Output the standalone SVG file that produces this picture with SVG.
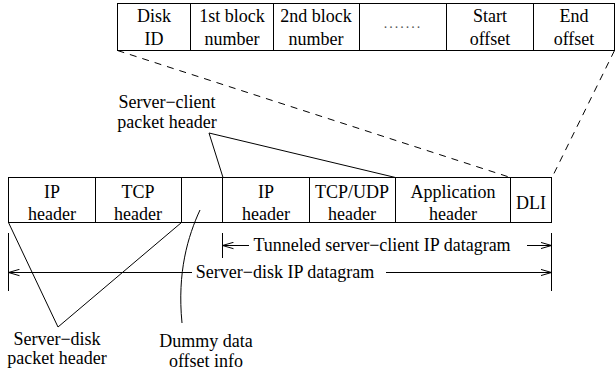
<svg xmlns="http://www.w3.org/2000/svg" width="616" height="374" viewBox="0 0 616 374">
  <defs>
    <style>
      text { font-family: "Liberation Serif", "Times New Roman", serif; font-size: 18px; fill: #000; text-anchor: middle; }
      .box { fill: #fff; stroke: #000; stroke-width: 1; }
      .ln { fill: none; stroke: #000; stroke-width: 1; }
      .dash { fill: none; stroke: #000; stroke-width: 1; stroke-dasharray: 7 6; }
    </style>
    <marker id="head" markerWidth="12" markerHeight="8" refX="11" refY="4" orient="auto-start-reverse" markerUnits="userSpaceOnUse">
      <path d="M0,0.8 L11,4 L0,7.2" fill="none" stroke="#000" stroke-width="1"/>
    </marker>
  </defs>
  <rect width="616" height="374" fill="#fff"/>

  <!-- DLI record layout -->
  <g id="dli-record">
    <rect class="box" x="117.5" y="3.5" width="497" height="47"/>
    <path class="ln" d="M190.5,3.5V50.5 M273.5,3.5V50.5 M359.5,3.5V50.5 M446.5,3.5V50.5 M533.5,3.5V50.5"/>
    <text x="154" y="22">Disk</text><text x="154" y="45">ID</text>
    <text x="232" y="22">1st block</text><text x="232" y="45">number</text>
    <text x="316" y="22">2nd block</text><text x="316" y="45">number</text>
    <text x="403" y="28" style="font-size:14px;letter-spacing:2px;fill:#555">.......</text>
    <text x="490" y="22">Start</text><text x="490" y="45">offset</text>
    <text x="574" y="22">End</text><text x="574" y="45">offset</text>
  </g>

  <!-- Server-disk packet -->
  <g id="packet">
    <rect class="box" x="8.5" y="177.5" width="543" height="45"/>
    <path class="ln" d="M95.5,177.5V222.5 M181.5,177.5V222.5 M222.5,177.5V222.5 M309.5,177.5V222.5 M395.5,177.5V222.5 M510.5,177.5V222.5"/>
    <text x="52" y="198">IP</text><text x="52" y="220">header</text>
    <text x="138" y="198">TCP</text><text x="138" y="220">header</text>
    <text x="266" y="198">IP</text><text x="266" y="220">header</text>
    <text x="352" y="198">TCP/UDP</text><text x="352" y="220">header</text>
    <text x="453" y="198">Application</text><text x="453" y="220">header</text>
    <text x="531" y="209">DLI</text>
  </g>

  <!-- Labels -->
  <g id="label-server-client">
    <text x="167" y="108">Server−client</text>
    <text x="167" y="128">packet header</text>
  </g>
  <g id="label-server-disk">
    <text x="57" y="345">Server−disk</text>
    <text x="57" y="364">packet header</text>
  </g>
  <g id="label-dummy">
    <text x="206" y="347">Dummy data</text>
    <text x="206" y="367">offset info</text>
  </g>

  <!-- Connectors -->
  <g id="connectors">
    <path class="dash" d="M117.5,50.5 L510.5,177.5"/>
    <path class="dash" d="M614.5,50.5 L552,177.5"/>
    <path class="ln" d="M223,177.5 L209,133 L395.5,177.5"/>
    <path class="ln" d="M8.5,222.5 L58,327 L181.5,222.5"/>
    <path class="ln" d="M200,210 C188,236 177,272 182,323"/>
    <!-- tunneled datagram span -->
    <path class="ln" d="M222.5,233V258"/>
    <path class="ln" d="M551.5,233V291"/>
    <path class="ln" d="M8.5,233V291"/>
    <path class="ln" marker-start="url(#head)" d="M222.5,245.5H249"/>
    <path class="ln" marker-end="url(#head)" d="M527,245.5H551.5"/>
    <text x="382" y="251">Tunneled server−client IP datagram</text>
    <!-- server-disk datagram span -->
    <path class="ln" marker-start="url(#head)" d="M8.5,272.5H192"/>
    <path class="ln" marker-end="url(#head)" d="M386,272.5H551.5"/>
    <text x="285" y="278">Server−disk IP datagram</text>
  </g>
</svg>
